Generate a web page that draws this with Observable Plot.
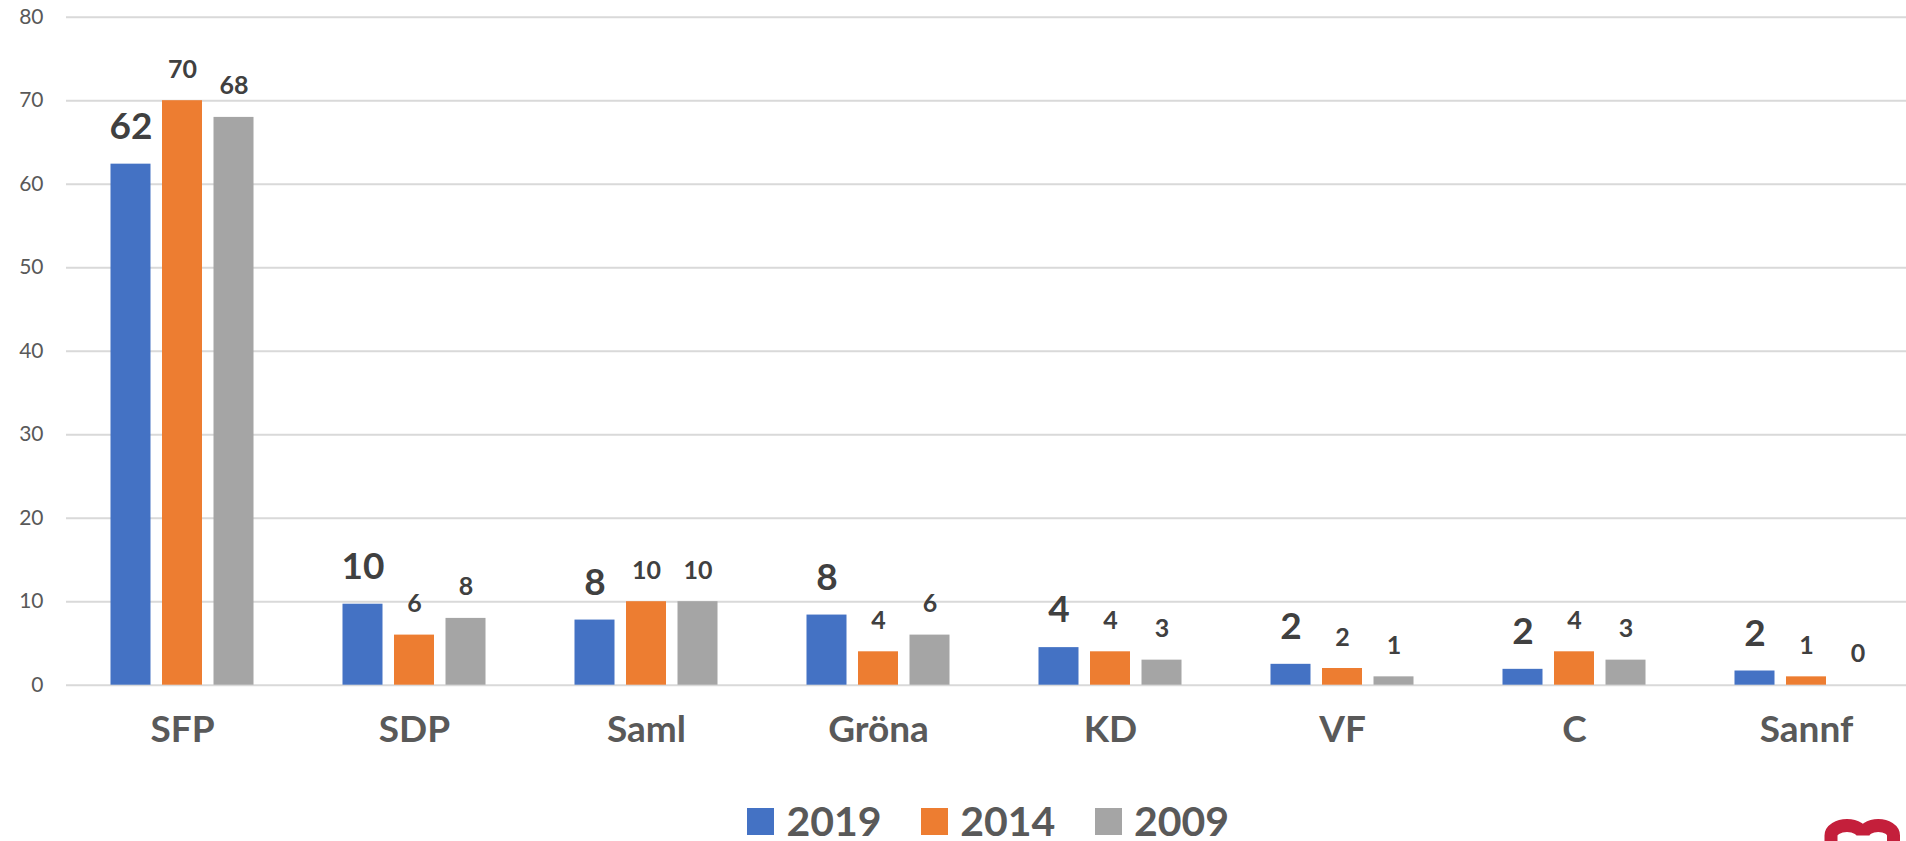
<!DOCTYPE html>
<html>
<head>
<meta charset="utf-8">
<script src="https://cdn.jsdelivr.net/npm/d3@7"></script>
<script src="https://cdn.jsdelivr.net/npm/@observablehq/plot@0.6"></script>
<style>
html, body { margin: 0; padding: 0; background: #fff; }
body { width: 1906px; height: 841px; overflow: hidden; position: relative; font-family: Lato, sans-serif; }
#legend { position: absolute; left: 0; top: 799px; width: 1906px; height: 44px; box-sizing: border-box; padding-left: 70px;
  display: flex; justify-content: center; align-items: center; }
.item { display: flex; align-items: center; margin: 0 19.6px; }
.sw { width: 27px; height: 27px; margin-right: 12.5px; }
.lab { font-size: 41px; font-weight: 700; color: #595959; line-height: 44px; }
#logo { position: absolute; left: 1815px; top: 812px; }
</style>
</head>
<body>
<div id="chart"></div>
<div id="legend"></div>
<svg id="logo" width="91" height="29" viewBox="0 0 91 29">
  <path d="M16 40 V23.5 A16 10 0 0 1 48 23.5 A15.25 10 0 0 1 78.5 23.5 V40" fill="none" stroke="#C41F3B" stroke-width="13"/>
</svg>
<script>
const parties = ["SFP", "SDP", "Saml", "Gröna", "KD", "VF", "C", "Sannf"];
const years = ["2019", "2014", "2009"];
const values2019 = [62.4, 9.7, 7.8, 8.4, 4.5, 2.5, 1.9, 1.7];
const values2014 = [70, 6, 10, 4, 4, 2, 4, 1];
const values2009 = [68, 8, 10, 6, 3, 1, 3, 0];
const labels2019 = ["62", "10", "8", "8", "4", "2", "2", "2"];
const labels2014 = ["70", "6", "10", "4", "4", "2", "4", "1"];
const labels2009 = ["68", "8", "10", "6", "3", "1", "3", "0"];
const colors = ["#4472C4", "#ED7D31", "#A5A5A5"];
const yTicks = [0, 10, 20, 30, 40, 50, 60, 70, 80];

const seriesValues = [values2019, values2014, values2009];
const seriesLabels = [labels2019, labels2014, labels2009];
const data = [];
parties.forEach((p, i) => {
  years.forEach((y, j) => {
    data.push({party: p, year: y, value: seriesValues[j][i], label: seriesLabels[j][i]});
  });
});

const chart = Plot.plot({
  width: 1906,
  height: 790,
  marginLeft: 66,
  marginRight: 0,
  marginTop: 16.7,
  marginBottom: 105.3,
  style: {fontFamily: "Lato, sans-serif", fontSize: "21px", color: "#595959", background: "#fff", overflow: "visible"},
  facet: {data, x: "party", marginTop: 0, marginBottom: 0, marginLeft: 0, marginRight: 0},
  fx: {domain: parties, range: [66, 1922], padding: 0, axis: null, round: false},
  x: {domain: years, paddingInner: 0.2233, paddingOuter: 0.864, axis: null, round: false},
  y: {domain: [0, 80], ticks: yTicks, tickSize: 0, tickPadding: 23, label: null},
  color: {domain: years, range: colors},
  marks: [
    Plot.ruleY(yTicks, {stroke: "#D9D9D9", strokeWidth: 2}),
    Plot.barY(data, {x: "year", y: "value", fill: "year"}),
    Plot.text(data, {filter: d => d.year === "2019", x: "year", y: "value", text: "label", dy: -37, fontSize: 37, fontWeight: 700, fill: "#404040"}),
    Plot.text(data, {filter: d => d.year !== "2019", x: "year", y: "value", text: "label", dy: -31, fontSize: 25, fontWeight: 700, fill: "#404040"}),
    Plot.text(data, {filter: d => d.year === "2014", x: "year", text: "party", frameAnchor: "bottom", dy: 57, fontSize: 37, fontWeight: 700, fill: "#595959"})
  ]
});
document.getElementById("chart").appendChild(chart);

const legend = document.getElementById("legend");
years.forEach((y, j) => {
  const item = document.createElement("div");
  item.className = "item";
  const sw = document.createElement("div");
  sw.className = "sw";
  sw.style.background = colors[j];
  const lab = document.createElement("span");
  lab.className = "lab";
  lab.textContent = y;
  item.appendChild(sw);
  item.appendChild(lab);
  legend.appendChild(item);
});
</script>
</body>
</html>
